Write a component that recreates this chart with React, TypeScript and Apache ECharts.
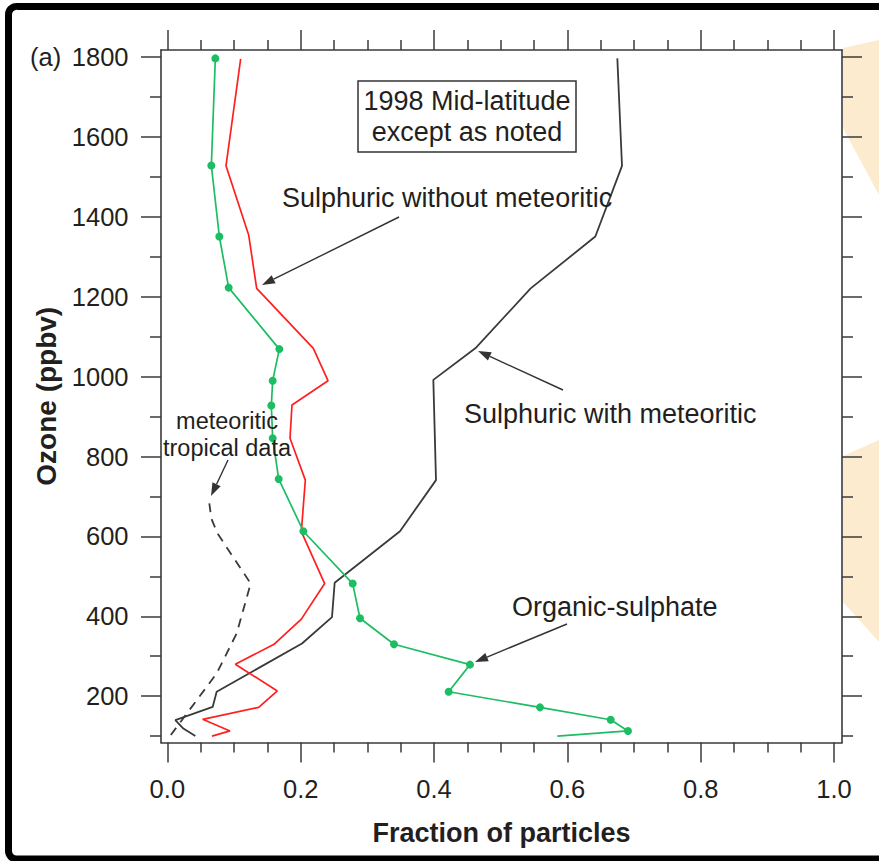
import React, { useEffect, useRef } from "react";
import * as echarts from "echarts";

// [fraction of particles, ozone (ppbv)]
const organicSulphate: number[][] = [
  [0.072, 1797], [0.066, 1529], [0.078, 1351], [0.092, 1223], [0.168, 1069],
  [0.158, 990], [0.156, 928], [0.158, 846], [0.167, 744], [0.204, 613],
  [0.278, 482], [0.289, 395], [0.34, 330], [0.454, 279], [0.422, 211],
  [0.559, 172], [0.665, 141], [0.691, 113],
];
const organicSulphateTail: number[] = [0.585, 100];

const sulphuricWithout: number[][] = [
  [0.110, 1796], [0.088, 1528], [0.122, 1355], [0.134, 1221], [0.219, 1071],
  [0.241, 990], [0.187, 929], [0.184, 846], [0.207, 741], [0.201, 612],
  [0.236, 482], [0.201, 393], [0.160, 330], [0.102, 280], [0.165, 213],
  [0.137, 172], [0.053, 142], [0.094, 113], [0.067, 100],
];

const sulphuricWith: number[][] = [
  [0.675, 1797], [0.682, 1528], [0.642, 1351], [0.545, 1221], [0.462, 1071],
  [0.399, 992], [0.403, 741], [0.349, 613], [0.251, 484], [0.247, 398],
  [0.202, 332], [0.074, 211], [0.068, 173], [0.012, 140], [0.024, 119],
  [0.042, 100],
];

const meteoriticTropical: number[][] = [
  [0.063, 683], [0.066, 645], [0.075, 608], [0.125, 482], [0.104, 357],
  [0.074, 257], [0.004, 100],
];

const xMajorTicks = [0, 0.2, 0.4, 0.6, 0.8, 1.0];
const xMinorTicks = [0.05, 0.1, 0.15, 0.25, 0.3, 0.35, 0.45, 0.5, 0.55, 0.65, 0.7, 0.75, 0.85, 0.9, 0.95];
const yMajorTicks = [200, 400, 600, 800, 1000, 1200, 1400, 1600, 1800];
const yMinorTicks = [100, 300, 500, 700, 900, 1100, 1300, 1500, 1700];

const X_MIN = -0.0095;
const X_MAX = 1.012;
const Y_MIN = 84;
const Y_MAX = 1818;

const FONT = "'Liberation Sans', Arial, Helvetica, sans-serif";
const AXIS_COLOR = "#3a3a3a";
const TEXT_COLOR = "#231f20";

function arrow(x1: number, y1: number, x2: number, y2: number) {
  const dx = x2 - x1;
  const dy = y2 - y1;
  const len = Math.sqrt(dx * dx + dy * dy);
  const ux = dx / len;
  const uy = dy / len;
  const headLen = 13;
  const headW = 4.5;
  const bx = x2 - ux * headLen;
  const by = y2 - uy * headLen;
  return [
    {
      type: "line",
      shape: { x1, y1, x2: bx, y2: by },
      style: { stroke: "#333", lineWidth: 1.4 },
      z: 50,
    },
    {
      type: "polygon",
      shape: {
        points: [
          [x2, y2],
          [bx - uy * headW, by + ux * headW],
          [bx + uy * headW, by - ux * headW],
        ],
      },
      style: { fill: "#333" },
      z: 50,
    },
  ];
}

function textEl(text: string, x: number, y: number, size: number, align = "left", extra: any = {}) {
  return {
    type: "text",
    x,
    y,
    z: 50,
    style: {
      text,
      fill: TEXT_COLOR,
      fontSize: size,
      fontFamily: FONT,
      align,
      textAlign: align,
      verticalAlign: "middle",
      textVerticalAlign: "middle",
      ...extra,
    },
  };
}

function makeXAxis(position: string, ticks: number[], len: number, showLine: boolean, showLabel: boolean, name?: string) {
  return {
    type: "value",
    position,
    min: X_MIN,
    max: X_MAX,
    gridIndex: 0,
    splitLine: { show: false },
    axisLine: { show: showLine, onZero: false, lineStyle: { color: AXIS_COLOR, width: 1.6 } },
    axisTick: { show: true, inside: false, length: len, customValues: ticks, lineStyle: { color: AXIS_COLOR, width: 1.5 } },
    axisLabel: {
      show: showLabel,
      customValues: ticks,
      formatter: (v: number) => v.toFixed(1),
      margin: 33,
      fontSize: 25.5,
      fontFamily: FONT,
      color: TEXT_COLOR,
    },
    name: name || "",
    nameLocation: "middle",
    nameGap: 76.5,
    nameTextStyle: { fontSize: 27, fontWeight: "bold", fontFamily: FONT, color: TEXT_COLOR },
  };
}

function makeYAxis(position: string, ticks: number[], len: number, showLine: boolean, showLabel: boolean, name?: string) {
  return {
    type: "value",
    position,
    min: Y_MIN,
    max: Y_MAX,
    gridIndex: 0,
    splitLine: { show: false },
    axisLine: { show: showLine, onZero: false, lineStyle: { color: AXIS_COLOR, width: 1.6 } },
    axisTick: { show: true, inside: false, length: len, customValues: ticks, lineStyle: { color: AXIS_COLOR, width: 1.5 } },
    axisLabel: {
      show: showLabel,
      customValues: ticks,
      formatter: (v: number) => String(v),
      margin: 32.5,
      fontSize: 25.5,
      fontFamily: FONT,
      color: TEXT_COLOR,
    },
    name: name || "",
    nameLocation: "middle",
    nameRotate: 90,
    nameGap: 98,
    nameTextStyle: { fontSize: 28, fontWeight: "bold", fontFamily: FONT, color: TEXT_COLOR },
  };
}

export default function App() {
  const ref = useRef<HTMLDivElement>(null);

  useEffect(() => {
    if (!ref.current) return;
    const chart = echarts.init(ref.current, null, { renderer: "svg" });

    const greenData: any[] = organicSulphate.map((p) => p);
    greenData.push({ value: organicSulphateTail, symbol: "none" });

    const option: any = {
      animation: false,
      backgroundColor: "#ffffff",
      grid: { left: 161, top: 50, width: 681, height: 692.5, containLabel: false, outerBoundsMode: "none" },
      xAxis: [
        makeXAxis("bottom", xMajorTicks, 20, true, true, "Fraction of particles"),
        makeXAxis("bottom", xMinorTicks, 10, false, false),
        makeXAxis("top", xMajorTicks, 20, true, false),
        makeXAxis("top", xMinorTicks, 10, false, false),
      ],
      yAxis: [
        makeYAxis("left", yMajorTicks, 20, true, true, "Ozone (ppbv)"),
        makeYAxis("left", yMinorTicks, 11, false, false),
        makeYAxis("right", yMajorTicks, 20, true, false),
        makeYAxis("right", yMinorTicks, 11, false, false),
      ],
      series: [
        {
          name: "Sulphuric with meteoritic",
          type: "line",
          xAxisIndex: 0,
          yAxisIndex: 0,
          data: sulphuricWith,
          showSymbol: false,
          symbol: "none",
          lineStyle: { color: "#3a3a3a", width: 1.8 },
          z: 3,
        },
        {
          name: "Meteoritic tropical data",
          type: "line",
          xAxisIndex: 0,
          yAxisIndex: 0,
          data: meteoriticTropical,
          symbol: "none",
          lineStyle: { color: "#3a3a3a", width: 1.8, type: [9, 7] },
          z: 3,
        },
        {
          name: "Sulphuric without meteoritic",
          type: "line",
          xAxisIndex: 0,
          yAxisIndex: 0,
          data: sulphuricWithout,
          symbol: "none",
          lineStyle: { color: "#ff1f1f", width: 1.7 },
          z: 4,
        },
        {
          name: "Organic-sulphate",
          type: "line",
          xAxisIndex: 0,
          yAxisIndex: 0,
          data: greenData,
          symbol: "circle",
          symbolSize: 8,
          showSymbol: true,
          itemStyle: { color: "#1cbd63" },
          lineStyle: { color: "#1cbd63", width: 1.7 },
          z: 5,
        },
      ],
      graphic: [
        {
          type: "rect",
          shape: { x: 8.5, y: 6.5, width: 900, height: 852.5, r: 8 },
          style: { fill: "none", stroke: "#000", lineWidth: 7 },
          z: 100,
        },
        {
          type: "polygon",
          shape: { points: [[843, 48], [879, 40], [879, 195], [843, 128]] },
          style: { fill: "#fdebcf" },
          z: 0,
        },
        {
          type: "polygon",
          shape: { points: [[843, 456], [879, 440], [879, 642], [843, 602]] },
          style: { fill: "#fdebcf" },
          z: 0,
        },
        textEl("(a)", 30, 57, 25.5),
        {
          type: "rect",
          shape: { x: 358, y: 81, width: 218, height: 71 },
          style: { fill: "#fff", stroke: "#333", lineWidth: 1.5 },
          z: 45,
        },
        textEl("1998 Mid-latitude\nexcept as noted", 467, 116.5, 27, "center", { lineHeight: 31 }),
        textEl("Sulphuric without meteoritic", 282, 198, 27),
        ...arrow(399, 217, 262, 285),
        textEl("Sulphuric with meteoritic", 464, 414, 27),
        ...arrow(563, 390, 478, 351),
        textEl("Organic-sulphate", 512, 607, 27),
        ...arrow(567, 624, 475, 662),
        textEl("meteoritic\ntropical data", 227, 434, 23.5, "center", { lineHeight: 27 }),
        ...arrow(228, 460, 211, 496),
      ],
    };

    chart.setOption(option);
    return () => chart.dispose();
  }, []);

  return (
    <div
      ref={ref}
      style={{ position: "absolute", left: 0, top: 0, width: 879, height: 861, background: "#fff" }}
    />
  );
}
